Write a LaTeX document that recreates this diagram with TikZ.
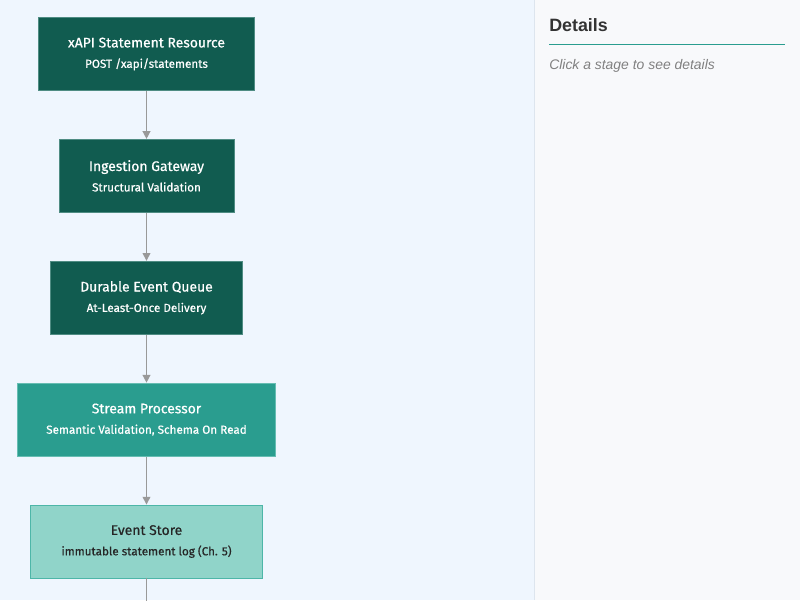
\documentclass[tikz,border=0pt]{standalone}
\usepackage{fontspec}
\setmainfont{Fira Sans}[FakeBold=0.6]
\newfontfamily\panelfont{Liberation Sans}
\usepackage{tikz}
\usetikzlibrary{positioning,arrows.meta}

\definecolor{leftbg}{HTML}{EFF6FE}
\definecolor{rightbg}{HTML}{F8F9FB}
\definecolor{divider}{HTML}{DDE5EE}
\definecolor{darkteal}{HTML}{115C50}
\definecolor{darkedge}{HTML}{4F8C83}
\definecolor{midteal}{HTML}{2A9D8F}
\definecolor{midedge}{HTML}{66BDB2}
\definecolor{lightteal}{HTML}{90D4C9}
\definecolor{lightedge}{HTML}{4DB6A8}
\definecolor{arrowgray}{HTML}{999999}

\newcommand{\stagesub}[1]{{\fontsize{8.3}{10}\selectfont #1}}

\begin{document}
\begin{tikzpicture}[
				x=0.025cm, y=-0.025cm,
				node distance=1.2cm,
				stage/.style={rectangle, draw=darkedge, fill=darkteal, text=white, line width=0.6pt,
					minimum height=1.825cm, align=center, font=\fontsize{9.9}{12}\selectfont},
				flow/.style={-{Triangle[length=5.5pt,width=5.5pt]}, draw=arrowgray, line width=0.9pt}
				]
				% panels
				\fill[leftbg] (0,0) rectangle (534,600);
				\fill[rightbg] (534,0) rectangle (800,600);
				\draw[divider, line width=0.7pt] (534,0) -- (534,600);
				\useasboundingbox (0,0) rectangle (800,600);
				
				\node[stage, minimum width=5.4cm] (resource) at (146.5,53.5)
					{xAPI Statement Resource\\[2.5pt]\stagesub{POST /xapi/statements}};
				\node[stage, below=of resource, minimum width=4.375cm] (gateway)
					{Ingestion Gateway\\[2.5pt]\stagesub{Structural Validation}};
				\node[stage, below=of gateway, minimum width=4.8cm] (queue)
					{Durable Event Queue\\[2.5pt]\stagesub{At-Least-Once Delivery}};
				\node[stage, below=of queue, minimum width=6.45cm, fill=midteal, draw=midedge] (processor)
					{Stream Processor\\[2.5pt]\stagesub{Semantic Validation, Schema On Read}};
				\node[stage, below=of processor, minimum width=5.8cm, fill=lightteal, draw=lightedge, text=black!85] (store)
					{Event Store\\[2.5pt]\stagesub{immutable statement log (Ch. 5)}};
				\coordinate (next) at (146.5,640);
				
				\draw[flow] (resource) -- (gateway);
				\draw[flow] (gateway) -- (queue);
				\draw[flow] (queue) -- (processor);
				\draw[flow] (processor) -- (store);
				\draw[arrowgray, line width=0.9pt] (store) -- (next);
				
				% details panel
				\node[anchor=base west, inner sep=0, font=\panelfont\bfseries\fontsize{12.7}{15}\selectfont, text=black!80] (details) at (549,31) {Details};
				\draw[midteal, line width=1.4pt] (549,44) -- (785,44);
				\node[anchor=base west, inner sep=0, font=\panelfont\itshape\fontsize{9.9}{12}\selectfont, text=black!50] (hint) at (549,69) {Click a stage to see details};
			\end{tikzpicture}
\end{document}
